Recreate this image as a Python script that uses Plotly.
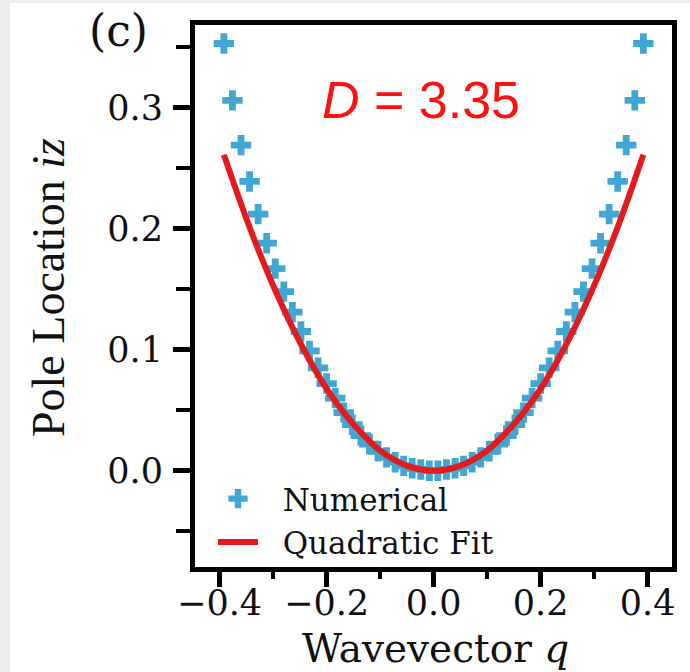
import plotly.graph_objects as go

# ---- data ----
q_numerical = [-0.392, -0.376, -0.360, -0.344, -0.328, -0.312, -0.296, -0.280, -0.264, -0.248,
               -0.232, -0.216, -0.200, -0.184, -0.168, -0.152, -0.136, -0.120, -0.104, -0.088,
               -0.072, -0.056, -0.040, -0.024, -0.008,
               0.008, 0.024, 0.040, 0.056, 0.072, 0.088, 0.104, 0.120, 0.136, 0.152,
               0.168, 0.184, 0.200, 0.216, 0.232, 0.248, 0.264, 0.280, 0.296, 0.312,
               0.328, 0.344, 0.360, 0.376, 0.392]
iz_numerical = [0.353, 0.306, 0.269, 0.239, 0.212, 0.188, 0.167, 0.148, 0.131, 0.115,
                0.099, 0.085, 0.072, 0.060, 0.048, 0.038, 0.029, 0.022, 0.016, 0.011,
                0.007, 0.004, 0.002, 0.001, 0.000,
                0.000, 0.001, 0.002, 0.004, 0.007, 0.011, 0.016, 0.022, 0.029, 0.038,
                0.048, 0.060, 0.072, 0.085, 0.099, 0.115, 0.131, 0.148, 0.167, 0.188,
                0.212, 0.239, 0.269, 0.306, 0.353]

q_fit = [-0.392, -0.343, -0.294, -0.245, -0.196, -0.147, -0.098, -0.049, 0.0,
         0.049, 0.098, 0.147, 0.196, 0.245, 0.294, 0.343, 0.392]
iz_fit = [0.261, 0.200, 0.147, 0.102, 0.065, 0.037, 0.016, 0.004, 0.000,
          0.004, 0.016, 0.037, 0.065, 0.102, 0.147, 0.200, 0.261]

x_ticks = [-0.4, -0.2, 0.0, 0.2, 0.4]
y_ticks = [0.0, 0.1, 0.2, 0.3]

SERIF = "DejaVu Serif"
BLUE = "#40a6d3"
RED = "#e41a1c"
INK = "#111111"

fig = go.Figure()
fig.add_trace(go.Scatter(
    x=q_numerical, y=iz_numerical, mode="markers", name="&nbsp;&nbsp;Numerical",
    marker=dict(symbol="cross", size=17, color=BLUE, line=dict(width=0)),
))
fig.add_trace(go.Scatter(
    x=q_fit, y=iz_fit, mode="lines", name="&nbsp;&nbsp;Quadratic Fit",
    line=dict(color=RED, width=6, shape="spline"),
))

# plot area px
L, R, T, B = 195, 672, 25, 567
W, H = 690, 672


def px_to_paper_x(px):
    return (px - L) / (R - L)


def px_to_paper_y(py):
    return (B - py) / (B - T)


# page: light grey border, white panel
fig.add_shape(type="rect", xref="paper", yref="paper", layer="below",
              x0=px_to_paper_x(10), x1=px_to_paper_x(700),
              y0=px_to_paper_y(680), y1=px_to_paper_y(3),
              fillcolor="white", line=dict(width=0))

axis_common = dict(
    showgrid=False, zeroline=False,
    showline=True, linecolor="black", linewidth=5, mirror=True,
    ticks="outside", tickcolor="black", tickwidth=5,
    tickfont=dict(family=SERIF, size=35, color=INK),
    tickformat=".1f",
)

fig.update_xaxes(
    range=[-0.446, 0.4455], tickmode="array", tickvals=x_ticks,
    ticklen=15, ticklabelstandoff=-14,
    minor=dict(ticks="outside", tickmode="array", tickvals=[-0.3, -0.1, 0.1, 0.3],
               ticklen=7, tickwidth=4, tickcolor="black"),
    **axis_common,
)
fig.update_yaxes(
    range=[-0.0796, 0.3683], tickmode="array", tickvals=y_ticks,
    ticklen=17, ticklabelstandoff=3,
    minor=dict(ticks="outside", tickmode="array", tickvals=[-0.05, 0.05, 0.15, 0.25, 0.35],
               ticklen=14, tickwidth=4, tickcolor="black"),
    **axis_common,
)

fig.add_annotation(text="<i>D</i> = 3.35", xref="x", yref="y", x=-0.024, y=0.306,
                   xanchor="center", yanchor="middle",
                   showarrow=False, font=dict(family="Liberation Sans", size=52, color="#ff1010"))
fig.add_annotation(text="(c)", xref="paper", yref="paper",
                   x=px_to_paper_x(118), y=px_to_paper_y(31),
                   xanchor="center", yanchor="middle",
                   showarrow=False, font=dict(family=SERIF, size=44, color=INK))
fig.add_annotation(text="Wavevector <i>q</i>", xref="paper", yref="paper",
                   x=px_to_paper_x(435), y=px_to_paper_y(648),
                   xanchor="center", yanchor="middle", borderpad=0,
                   showarrow=False, font=dict(family=SERIF, size=39, color=INK))
fig.add_annotation(text="Pole Location <i>iz</i>", xref="paper", yref="paper",
                   x=px_to_paper_x(48), y=px_to_paper_y(288), textangle=-90,
                   xanchor="center", yanchor="middle",
                   showarrow=False, font=dict(family="Liberation Serif", size=46, color=INK))

fig.update_layout(
    width=W, height=H,
    margin=dict(l=L, r=W - R, t=T, b=H - B),
    paper_bgcolor="#ededed", plot_bgcolor="white",
    showlegend=True,
    legend=dict(
        x=px_to_paper_x(213), y=px_to_paper_y(472), xanchor="left", yanchor="top",
        bgcolor="rgba(0,0,0,0)", borderwidth=0, itemwidth=40,
        font=dict(family=SERIF, size=31, color=INK),
        tracegroupgap=0,
    ),
)

fig.write_html(
    "out.html",
    config={"displayModeBar": False},
    post_script="document.body.style.margin='0';document.body.style.padding='0';",
)
